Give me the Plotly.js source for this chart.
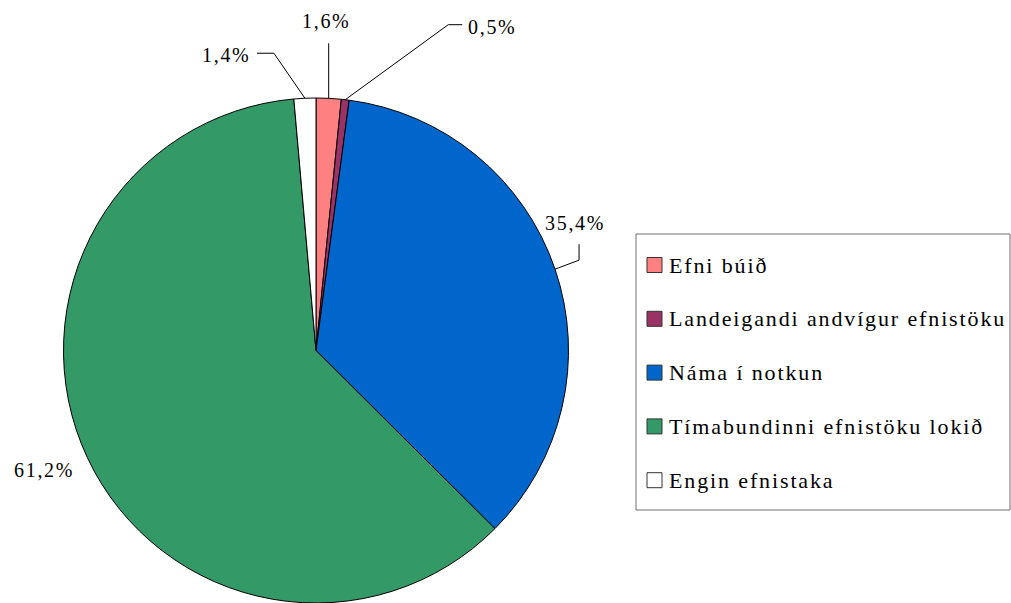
<!DOCTYPE html>
<html>
<head>
<meta charset="utf-8">
<script src="https://cdn.plot.ly/plotly-3.0.1.min.js"></script>
<style>
body{margin:0;background:#fff;}
#chart{width:1011px;height:603px;}
text.annotation-text{letter-spacing:0.085em;}
</style>
</head>
<body>
<div id="chart"></div>
<script>
// ---- data ----
const labels = ['Efni búið', 'Landeigandi andvígur efnistöku', 'Náma í notkun', 'Tímabundinni efnistöku lokið', 'Engin efnistaka'];
const values = [1.6, 0.5, 35.4, 61.2, 1.4];
const colors = ['#FF8080', '#993366', '#0066CC', '#339966', '#FFFFFF'];

// ---- layout / style ----
const W = 1011, H = 603;
const cx = 316, cy = 350.5, R = 252.5;
const FONT = '"Liberation Serif", "Times New Roman", serif';
// leader line bends and label offsets (pixels, relative to slice edge midpoint)
const labelStyle = [
  {path: [[0, -55]], text: [-3, -77], anchor: 'center'},
  {path: [[103, -75], [117, -75]], text: [121, -73], anchor: 'left'},
  {path: [[24, -9], [24, -25]], text: [20, -46], anchor: 'center'},
  {path: [], text: [-43, 12], anchor: 'center'},
  {path: [[-31, -45], [-48, -45]], text: [-53, -43], anchor: 'right'}
];

const px = x => x / W;
const py = y => 1 - y / H;

const total = values.reduce((a, b) => a + b, 0);
const annotations = [];
const shapes = [];
let cum = 0;
values.forEach((v, i) => {
  const mid = (cum + v / 2) / total * 2 * Math.PI;
  cum += v;
  const ax = cx + R * Math.sin(mid);
  const ay = cy - R * Math.cos(mid);
  const st = labelStyle[i];
  if (st.path.length) {
    let d = 'M' + px(ax) + ',' + py(ay);
    st.path.forEach(p => { d += ' L' + px(ax + p[0]) + ',' + py(ay + p[1]); });
    shapes.push({type: 'path', xref: 'paper', yref: 'paper', path: d, line: {color: '#000', width: 1}});
  }
  annotations.push({
    xref: 'paper', yref: 'paper', showarrow: false,
    x: px(ax + st.text[0]), y: py(ay + st.text[1]),
    xanchor: st.anchor, yanchor: 'middle',
    text: v.toFixed(1).replace('.', ',') + '%',
    font: {family: FONT, size: 20, color: '#000'}
  });
});

// custom legend
const legBox = {x0: 636, y0: 234, x1: 1010, y1: 510};
shapes.push({type: 'rect', xref: 'paper', yref: 'paper', x0: px(legBox.x0), x1: px(legBox.x1), y0: py(legBox.y0), y1: py(legBox.y1), line: {color: '#6e6e6e', width: 1}, fillcolor: 'rgba(0,0,0,0)'});
const rowTop = 265, rowGap = 53.8, sw = 15;
labels.forEach((lab, i) => {
  const yc = rowTop + i * rowGap;
  shapes.push({type: 'rect', xref: 'paper', yref: 'paper', x0: px(647), x1: px(647 + sw), y0: py(yc - sw / 2), y1: py(yc + sw / 2), fillcolor: colors[i], line: {color: '#333', width: 1}});
  annotations.push({
    xref: 'paper', yref: 'paper', showarrow: false,
    x: px(667), y: py(yc), xanchor: 'left', yanchor: 'middle',
    text: lab, font: {family: FONT, size: 22, color: '#000'}
  });
});

const trace = {
  type: 'pie',
  labels: labels,
  values: values,
  sort: false,
  direction: 'clockwise',
  rotation: 0,
  textinfo: 'none',
  marker: {colors: colors, line: {color: '#000', width: 1}},
  domain: {x: [0, 2 * cx / W], y: [0, 1 - (cy - R) / H]},
  showlegend: false
};

Plotly.newPlot('chart', [trace], {
  width: W, height: H,
  margin: {l: 0, r: 0, t: 0, b: 0},
  paper_bgcolor: '#fff',
  showlegend: false,
  annotations: annotations,
  shapes: shapes,
  font: {family: FONT}
}, {displayModeBar: false, staticPlot: true});
</script>
</body>
</html>
